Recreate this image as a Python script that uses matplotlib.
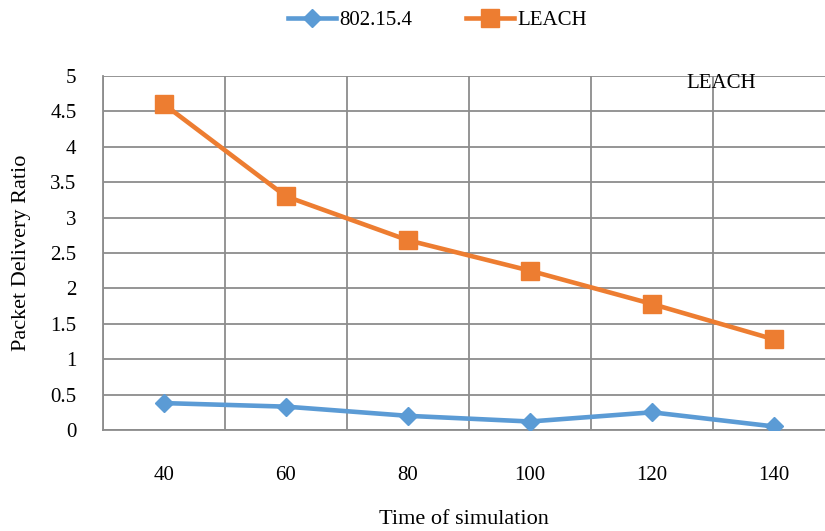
import matplotlib
matplotlib.use("Agg")
import matplotlib.pyplot as plt
import numpy as np

categories = ["40", "60", "80", "100", "120", "140"]
ieee_values = [0.38, 0.33, 0.20, 0.12, 0.25, 0.05]
leach_values = [4.60, 3.30, 2.68, 2.25, 1.78, 1.28]
y_ticks = [0, 0.5, 1, 1.5, 2, 2.5, 3, 3.5, 4, 4.5, 5]
y_tick_labels = ["0", "0.5", "1", "1.5", "2", "2.5", "3", "3.5", "4", "4.5", "5"]

plt.rcParams['font.family'] = ['Liberation Serif', 'DejaVu Serif']

fig = plt.figure(figsize=(8.25, 5.31), dpi=100)
ax = fig.add_axes([103/825, 101/531, 732/825, 354/531])

x = np.arange(len(categories))
blue = "#5B9BD5"
orange = "#ED7D31"
grid_c = "#8C8C8C"

l1, = ax.plot(x, ieee_values, color=blue, lw=3.3, marker="D", ms=9.5,
              label="802.15.4", zorder=3)
l2, = ax.plot(x, leach_values, color=orange, lw=3.3, marker="s", ms=13,
              label="LEACH", zorder=3)

ax.set_xlim(-0.5, len(categories) - 0.5)
ax.set_ylim(0, 5)
ax.set_xticks(x)
ax.set_xticklabels(categories, fontsize=15)
ax.set_xticks(np.arange(-0.5, len(categories), 1.0), minor=True)
ax.set_yticks(y_ticks)
ax.set_yticklabels(y_tick_labels, fontsize=15)
ax.tick_params(axis='both', which='both', length=0)
ax.tick_params(axis='x', pad=26)
ax.tick_params(axis='y', pad=19)

ax.grid(True, which='major', axis='y', color=grid_c, lw=1.3)
ax.grid(True, which='minor', axis='x', color=grid_c, lw=1.3)
for s in ["top", "right"]:
    ax.spines[s].set_visible(False)
for s in ["left", "bottom"]:
    ax.spines[s].set_color(grid_c)
    ax.spines[s].set_linewidth(1.3)

xl = ax.set_xlabel("Time of simulation", fontsize=16, va="center")
ax.xaxis.set_label_coords((464 - 103) / 732, (430 - 519) / 354)
yl = ax.set_ylabel("Packet Delivery Ratio", fontsize=16, va="center")
ax.yaxis.set_label_coords((22 - 103) / 732, (430 - 253) / 354)

ax.text(4.57, 4.90, "LEACH", fontsize=15, ha="center", va="center")

fig.legend(handles=[l1, l2], loc="center", bbox_to_anchor=(0.53, 0.962),
           ncol=2, frameon=False, fontsize=15, handlelength=2.3,
           columnspacing=2.6, handletextpad=0.15)

fig.savefig("out.png", dpi=100)
